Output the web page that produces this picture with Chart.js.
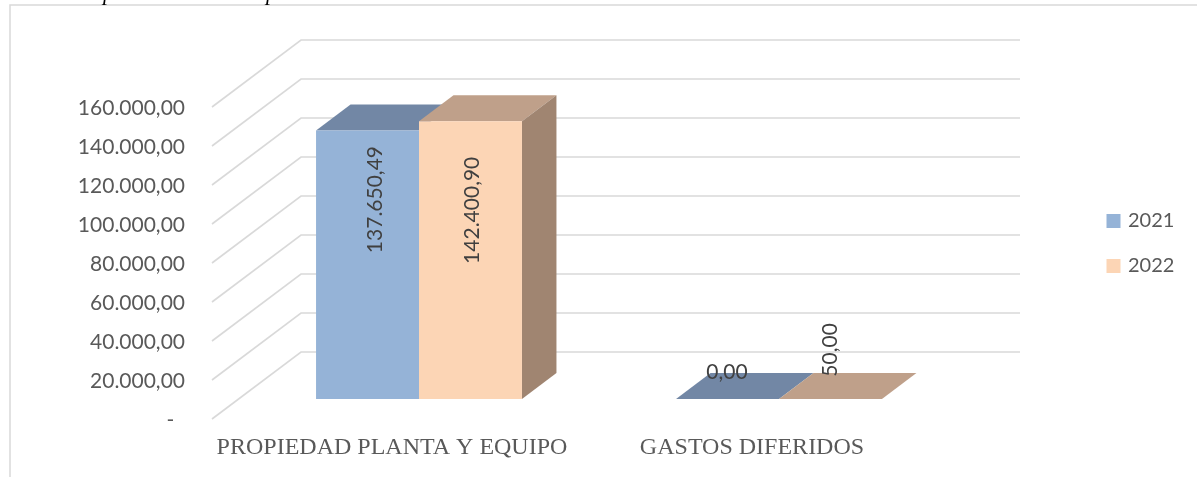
<!DOCTYPE html>
<html><head><meta charset="utf-8">
<style>html,body{margin:0;padding:0;background:#fff}canvas{display:block}</style>
<script src="https://cdn.jsdelivr.net/npm/chart.js@4/dist/chart.umd.js"></script>
</head><body>
<canvas id="c" width="1197" height="477"></canvas>
<script>
const categories = ['PROPIEDAD PLANTA Y EQUIPO', 'GASTOS DIFERIDOS'];
const series2021 = [137650.49, 0];
const series2022 = [142400.90, 50];
const seriesNames = ['2021', '2022'];
const labels2021 = ['137.650,49', '0,00'];
const labels2022 = ['142.400,90', '50,00'];

const frontColors = ['#95B3D7', '#FCD5B5'];
const topColors = ['#7287A5', '#BFA08A'];
const sideColors = ['#64799A', '#A08571'];
const GRID = '#D9D9D9', TEXT = '#595959', LABEL = '#404040';
const SANS = 'Lato, "Open Sans", sans-serif';

// 3D projection constants (px)
const WALL = {dx: 89, dy: -67};
const BAR_SHIFT = {dx: 27, dy: -20};
const BAR_DEPTH = {dx: 34.5, dy: -26};
// label offsets from top-centre of each bar's front face: [dx, dy, rotated]
const labelOffsets = [
  [[8, 69, true], [-0.5, -27, false]],
  [[2, 89, true], [-0.5, -49, true]]
];

function poly(ctx, pts, color) {
  ctx.fillStyle = color;
  ctx.beginPath();
  pts.forEach((p, i) => i ? ctx.lineTo(p[0], p[1]) : ctx.moveTo(p[0], p[1]));
  ctx.closePath();
  ctx.fill();
}

const threeD = {
  id: 'threeD',
  beforeLayout(chart) {
    const lg = chart.legend;
    if (lg && !lg._patched) {
      const f = lg.fit.bind(lg);
      lg.fit = function () { f(); this.width = 100; };
      lg._patched = true;
    }
  },
  afterLayout(chart) {
    const lg = chart.legend;
    lg.left = 1084; lg.right = 1184; lg.top = 186; lg.bottom = 420;
    const ys = chart.scales.y;
    if (!ys._patched) {
      const d = ys.drawLabels.bind(ys);
      ys.drawLabels = function (a) {
        chart.ctx.save();
        chart.ctx.translate(0, 1);
        d(a);
        chart.ctx.restore();
      };
      ys._patched = true;
    }
  },
  beforeDraw(chart) {
    const ctx = chart.ctx;
    ctx.save();
    ctx.fillStyle = '#fff';
    ctx.fillRect(0, 0, chart.width, chart.height);
    ctx.strokeStyle = GRID;
    ctx.lineWidth = 1.5;
    ctx.beginPath();
    ctx.moveTo(10, 477); ctx.lineTo(10, 5); ctx.lineTo(1197, 5);
    ctx.stroke();
    ctx.fillStyle = '#000';
    ctx.font = 'italic 22px "Liberation Serif"';
    ctx.textBaseline = 'alphabetic';
    ctx.fillText('p', 103, 0);
    ctx.fillText('p', 266, 0);
    ctx.restore();
  },
  beforeDatasetsDraw(chart) {
    const ctx = chart.ctx, y = chart.scales.y, a = chart.chartArea;
    ctx.save();
    ctx.strokeStyle = GRID;
    ctx.lineWidth = 1.6;
    y.ticks.forEach(t => {
      const py = y.getPixelForValue(t.value);
      ctx.beginPath();
      ctx.moveTo(a.left, py);
      ctx.lineTo(a.left + WALL.dx, py + WALL.dy);
      ctx.lineTo(a.right + WALL.dx - 1, py + WALL.dy);
      ctx.stroke();
    });
    ctx.translate(BAR_SHIFT.dx, BAR_SHIFT.dy);
    const last = chart.data.datasets.length - 1;
    chart.data.datasets.forEach((ds, i) => {
      chart.getDatasetMeta(i).data.forEach(b => {
        const l = b.x - b.width / 2, r = b.x + b.width / 2, t = b.y, base = b.base;
        const dx = BAR_DEPTH.dx, dy = BAR_DEPTH.dy;
        poly(ctx, [[l, t], [l + dx, t + dy], [r + dx, t + dy], [r, t]], topColors[i]);
        if (i === last && base - t > 0.5) poly(ctx, [[r, t], [r + dx, t + dy], [r + dx, base + dy], [r, base]], sideColors[i]);
      });
    });
    ctx.restore();
    ctx.save();
    ctx.translate(BAR_SHIFT.dx, BAR_SHIFT.dy);
  },
  afterDatasetsDraw(chart) {
    const ctx = chart.ctx;
    ctx.restore();
    ctx.save();
    ctx.fillStyle = LABEL;
    ctx.font = '21px ' + SANS;
    ctx.textAlign = 'center';
    ctx.textBaseline = 'middle';
    const texts = [labels2021, labels2022];
    chart.data.datasets.forEach((ds, i) => {
      chart.getDatasetMeta(i).data.forEach((b, j) => {
        const o = labelOffsets[i][j];
        const x = b.x + BAR_SHIFT.dx + o[0], yy = b.y + BAR_SHIFT.dy + o[1];
        ctx.save();
        ctx.translate(x, yy);
        if (o[2]) ctx.rotate(-Math.PI / 2);
        ctx.fillText(texts[i][j], 0, 0);
        ctx.restore();
      });
    });
    ctx.restore();
  }
};

new Chart(document.getElementById('c'), {
  type: 'bar',
  data: {
    labels: categories,
    datasets: [
      {label: seriesNames[0], data: series2021, backgroundColor: frontColors[0], borderWidth: 0},
      {label: seriesNames[1], data: series2022, backgroundColor: frontColors[1], borderWidth: 0}
    ]
  },
  plugins: [threeD],
  options: {
    responsive: false,
    animation: false,
    events: [],
    layout: {padding: {top: 107, left: 0, right: 165, bottom: 0}},
    datasets: {bar: {categoryPercentage: 0.572, barPercentage: 1}},
    plugins: {
      title: {display: false},
      tooltip: {enabled: false},
      legend: {
        position: 'right',
        align: 'start',
        labels: {
          boxWidth: 9, boxHeight: 9, padding: 25,
          color: TEXT,
          font: {family: SANS, size: 20},
          generateLabels(chart) {
            return chart.data.datasets.map((d, i) => ({
              text: d.label, fillStyle: frontColors[i], strokeStyle: frontColors[i],
              fontColor: TEXT, lineWidth: 5, datasetIndex: i, hidden: false
            }));
          }
        }
      }
    },
    scales: {
      x: {
        grid: {display: false, drawTicks: false},
        border: {display: false},
        afterFit(s) { s.height = 58; },
        ticks: {
          color: TEXT, autoSkip: false, maxRotation: 0, minRotation: 0, padding: 14,
          font: {family: '"Liberation Serif", serif', size: 24}
        }
      },
      y: {
        min: 0, max: 160000,
        grid: {display: false, drawTicks: false},
        border: {display: false},
        afterFit(s) { s.width = 212; },
        ticks: {
          stepSize: 20000, color: TEXT, padding: 27,
          font: {family: SANS, size: 21},
          callback(v) {
            if (v === 0) return '-  ';
            return v.toLocaleString('es-ES', {minimumFractionDigits: 2, maximumFractionDigits: 2, useGrouping: true}).replace(/^(\d+)\.?(\d{3})/, '$1.$2');
          }
        }
      }
    }
  }
});
</script>
</body></html>
